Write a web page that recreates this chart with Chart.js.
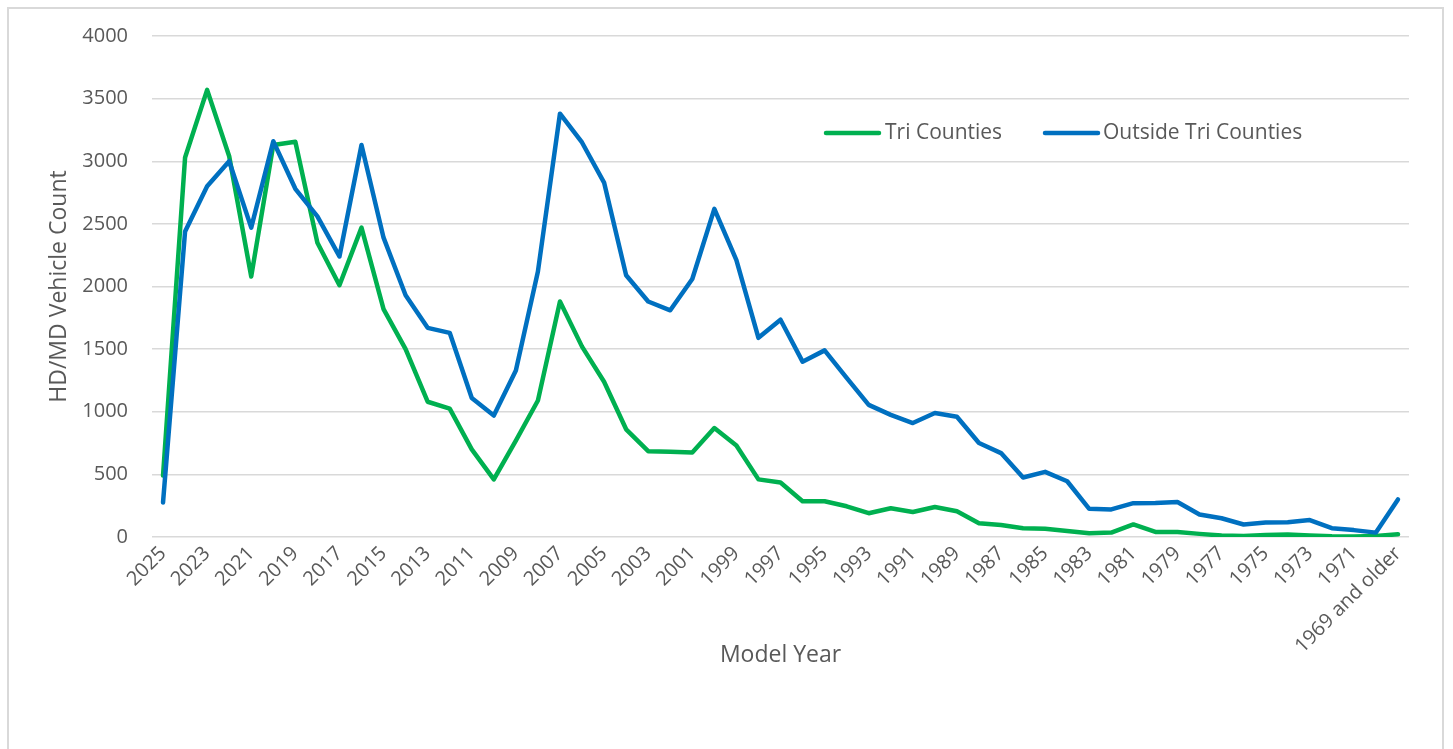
<!DOCTYPE html>
<html>
<head>
<meta charset="utf-8">
<script src="https://cdn.jsdelivr.net/npm/chart.js@4.4.1/dist/chart.umd.min.js"></script>
<style>
  html, body { margin: 0; padding: 0; background: #ffffff; }
  #wrap { position: relative; width: 1453px; height: 749px; overflow: hidden; }
  #frame { position: absolute; left: 7px; top: 7px; width: 1437px; height: 780px; border: 2px solid #d9d9d9; box-sizing: border-box; }
  #c { position: absolute; left: 0; top: 0; }
</style>
</head>
<body>
<div id="wrap">
  <div id="frame"></div>
  <canvas id="c" width="1453" height="749"></canvas>
</div>
<script>
const categories = ["2025","2024","2023","2022","2021","2020","2019","2018","2017","2016",
  "2015","2014","2013","2012","2011","2010","2009","2008","2007","2006",
  "2005","2004","2003","2002","2001","2000","1999","1998","1997","1996",
  "1995","1994","1993","1992","1991","1990","1989","1988","1987","1986",
  "1985","1984","1983","1982","1981","1980","1979","1978","1977","1976",
  "1975","1974","1973","1972","1971","1970","1969 and older"];

const triCounties = [490, 3030, 3570, 3040, 2080, 3130, 3155, 2350, 2010, 2470,
  1820, 1500, 1080, 1025, 700, 460, 770, 1090, 1880, 1520,
  1240, 860, 685, 680, 675, 870, 730, 460, 435, 285,
  285, 245, 190, 230, 200, 240, 205, 110, 95, 70,
  65, 48, 30, 35, 100, 40, 40, 25, 12, 8,
  15, 20, 12, 6, 4, 8, 22];

const outsideTriCounties = [275, 2440, 2800, 3000, 2470, 3160, 2780, 2560, 2240, 3130,
  2390, 1930, 1670, 1630, 1110, 970, 1330, 2120, 3380, 3150,
  2830, 2090, 1880, 1810, 2060, 2620, 2210, 1590, 1735, 1400,
  1490, 1270, 1055, 975, 910, 990, 960, 750, 670, 475,
  520, 445, 225, 220, 270, 272, 280, 180, 150, 100,
  115, 118, 135, 70, 55, 35, 300];

const seriesNames = ["Tri Counties", "Outside Tri Counties"];
const yTicks = { min: 0, max: 4000, step: 500 };

const TEXT = '#595959';
const FONT = "'Open Sans', sans-serif";

const legendPlugin = {
  id: 'insideLegend',
  afterDraw(chart) {
    const ctx = chart.ctx;
    const items = [
      { ds: chart.data.datasets[0], x0: 826, x1: 879, tx: 885 },
      { ds: chart.data.datasets[1], x0: 1045, x1: 1098, tx: 1103 }
    ];
    const y = 133;
    ctx.save();
    items.forEach(it => {
      ctx.beginPath();
      ctx.strokeStyle = it.ds.borderColor;
      ctx.lineWidth = 4.5;
      ctx.lineCap = 'round';
      ctx.moveTo(it.x0, y);
      ctx.lineTo(it.x1, y);
      ctx.stroke();
      ctx.fillStyle = TEXT;
      ctx.font = "21px " + FONT;
      ctx.textBaseline = 'middle';
      ctx.textAlign = 'left';
      ctx.fillText(it.ds.label, it.tx, y);
    });
    ctx.restore();
  }
};

new Chart(document.getElementById('c'), {
  type: 'line',
  data: {
    labels: categories,
    datasets: [
      {
        label: seriesNames[0],
        data: triCounties,
        borderColor: '#00B050',
        backgroundColor: '#00B050',
        borderWidth: 4.5,
        pointRadius: 0,
        tension: 0,
        borderJoinStyle: 'round',
        borderCapStyle: 'round',
        order: 1
      },
      {
        label: seriesNames[1],
        data: outsideTriCounties,
        borderColor: '#0070C0',
        backgroundColor: '#0070C0',
        borderWidth: 4.5,
        pointRadius: 0,
        tension: 0,
        borderJoinStyle: 'round',
        borderCapStyle: 'round',
        order: 0
      }
    ]
  },
  options: {
    responsive: false,
    animation: false,
    devicePixelRatio: 1,
    layout: { padding: { left: 0, right: 44, top: 36, bottom: 0 } },
    plugins: { legend: { display: false }, tooltip: { enabled: false } },
    scales: {
      x: {
        offset: true,
        grid: { display: false, drawTicks: false },
        border: { display: false },
        ticks: {
          autoSkip: false,
          minRotation: 45,
          maxRotation: 45,
          padding: 5,
          color: TEXT,
          font: { family: FONT, size: 20 },
          callback: function(value, index) { return index % 2 === 0 ? this.getLabelForValue(value) : ''; }
        },
        title: {
          display: true,
          text: 'Model Year',
          color: TEXT,
          font: { family: FONT, size: 23 },
          padding: { top: 0, bottom: 80 }
        },
        afterFit(scale) { scale.height = 212; }
      },
      y: {
        min: yTicks.min,
        max: yTicks.max,
        grid: { color: '#d9d9d9', lineWidth: 1.5, drawTicks: false },
        border: { display: false },
        ticks: {
          stepSize: yTicks.step,
          padding: 24,
          color: TEXT,
          font: { family: FONT, size: 20 },
          callback: function(value) { return String(value); }
        },
        title: {
          display: true,
          text: 'HD/MD Vehicle Count',
          color: TEXT,
          font: { family: FONT, size: 23 },
          padding: { top: 46, bottom: 0 }
        },
        afterFit(scale) { scale.width = 152; }
      }
    }
  },
  plugins: [legendPlugin]
});
</script>
</body>
</html>
